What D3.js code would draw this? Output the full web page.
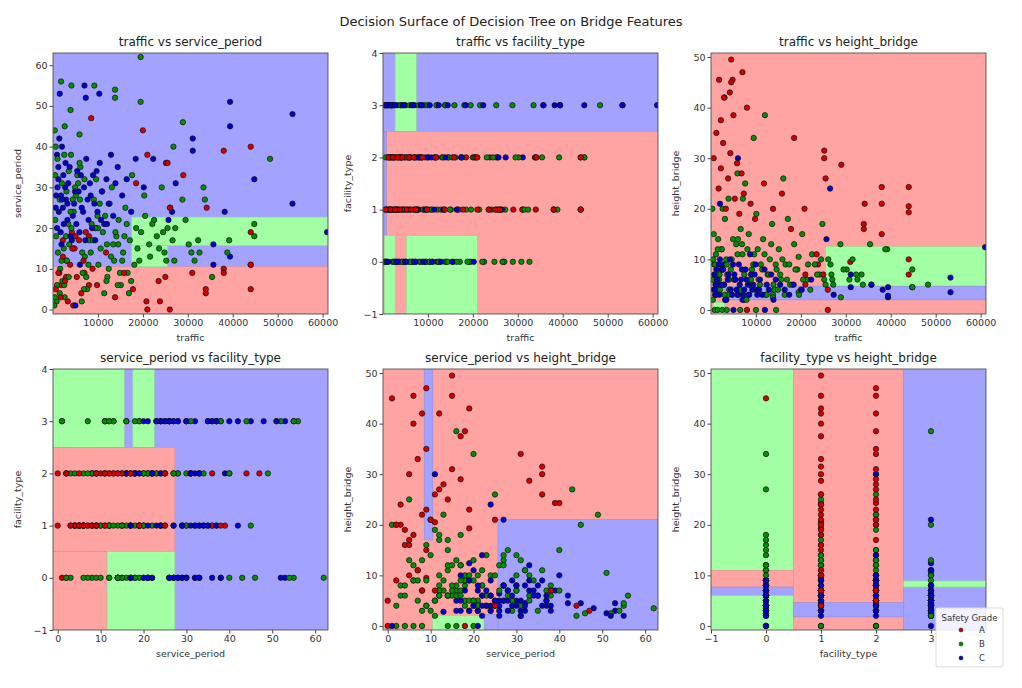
<!DOCTYPE html>
<html>
<head>
<meta charset="utf-8">
<script src="https://cdn.jsdelivr.net/npm/d3@7"></script>
<style>
  body { margin: 0; background: #fff; font-family: 'DejaVu Sans', sans-serif; }
</style>
</head>
<body>
<div id="chart"></div>
<script>
// bridge records: [traffic (thousands), service_period, facility_type, height_bridge, grade]
const bridges = [
  [19.5,62,0,3.5,'B'],[1.8,56,3,6,'B'],[4.1,55,0,4,'B'],[7.0,55,3,2,'C'],[9.2,55,3,4.5,'B'],[1.5,53,3,4.5,'C'],[10.3,53,0,3,'C'],[13.8,54,0,3,'B'],[13.8,52,3,2.5,'B'],[7.3,52,0,2,'C'],
  [19.5,51,3,10.5,'B'],[39.4,51,3,2.5,'C'],[53.3,48,3,3.5,'C'],[39.4,45,3,4.5,'C'],[48.3,37,3,5,'B'],[44.8,32,3,4.5,'C'],[53.3,26,3,6.4,'C'],[28.9,46,0,2.5,'B'],[20.0,44,2,4,'A'],[31.1,42,1,4.5,'C'],
  [31.1,39,2,7,'C'],[26.8,40,0,7,'B'],[8.5,47,2,3,'A'],[61,19,3,12.4,'C'],[44.8,21,2,4.5,'B'],[44.8,18,2,8,'B'],[39.2,17,2,12,'B'],[39.4,13,3,2.8,'C'],[44,11,1,20.5,'A'],[38,10,1,21,'A'],
  [34,4,1,16,'A'],[26,0,1,0,'A'],[23.8,2,2,9,'A'],[31,9,1,9.5,'A'],[35.7,11,3,5,'C'],[35.7,16,3,5,'C'],[44,19,1,19.3,'A'],
  [4.5,15,1,49.5,'A'],[7,9,2,47,'A'],[1.8,6,1,45.5,'A'],[4.8,15,2,45.5,'A'],[4.2,19,1,43,'A'],[3,12,1,42,'A'],[2.9,8,2,42,'A'],[8,6,1,40,'A'],[2.2,17,1,37.5,'A'],[5,18,2,38.5,'A'],
  [18.5,31,2,34,'A'],[25.2,36,1,31.5,'A'],[25.2,36,2,30,'A'],[29,33,1,28.7,'A'],[25.5,36,1,26,'A'],[44,40,2,24.3,'A'],[38,39,1,24.3,'A'],[4.5,1,0,45,'A'],[9.5,20,0,34,'B'],[12,16,3,38.5,'B'],
  [0.8,2,0,0,'B'],[1.5,4,1,0,'B'],[2.5,6,2,0,'B'],[3.5,8,0,0,'B'],[5,1,3,0,'C'],[6.5,14,0,0,'B'],[8,18,2,0,'A'],[10,20,1,0,'B'],[12,21,0,0,'C'],[14.5,16,2,0,'B'],
  [1,30,3,5,'C'],[1.2,35,3,8,'C'],[0.9,38,3,3,'C'],[1.4,42,3,6,'C'],[2,40,3,10,'C'],[0.6,25,3,4,'C'],[1.8,28,2,7,'C'],[2.3,33,1,12,'C'],[2.8,36,0,9,'C'],[3.2,26,3,2,'C'],
  [0.5,22,1,6,'B'],[0.7,18,0,9,'B'],[1.1,14,2,11,'B'],[1.6,10,1,14,'B'],[2.1,7,0,5,'B'],[2.6,3,2,8,'B'],[3.1,12,1,18,'B'],[3.6,16,0,7,'B'],[4.1,20,2,4,'B'],[4.6,24,1,10,'B'],
  [5.1,28,0,6,'B'],[5.6,31,2,13,'B'],[6.1,35,1,3,'B'],[6.6,9,0,16,'B'],[7.1,13,2,22,'B'],[7.6,5,1,25,'B'],[8.1,17,0,12,'B'],[8.6,21,2,5,'B'],[9.1,27,1,8,'B'],[9.6,32,0,11,'B'],
  [10.1,11,2,19,'B'],[10.6,15,1,6,'B'],[11.1,19,0,9,'B'],[11.6,23,2,14,'B'],[12.1,8,1,3,'B'],[12.6,26,0,7,'B'],[13.1,30,2,10,'B'],[13.6,12,1,17,'B'],[14.1,18,0,4,'B'],[14.6,22,2,8,'B'],
  [15.1,6,1,12,'B'],[15.6,14,0,6,'B'],[16.1,25,2,26,'B'],[16.6,9,1,9,'B'],[17.1,17,0,18,'B'],[17.6,33,2,5,'B'],[18.5,20,1,13,'B'],[19.2,12,0,8,'B'],[20.3,28,2,15,'B'],[21.4,16,1,6,'B'],
  [22.5,22,0,11,'B'],[23.1,18,2,9,'B'],[24.2,30,1,7,'B'],[24.8,14,0,17,'B'],[25.5,20,2,5,'B'],[26.1,25,1,10,'B'],[27,12,0,6,'B'],[28.8,27,3,13,'B'],[30.2,16,2,8,'B'],[31.5,12,1,10,'B'],
  [32.6,14,0,6,'B'],[33.5,30,3,7,'B'],[35.4,8,2,13,'B'],[38.8,14,1,12,'B'],[0.4,44,3,2,'B'],[0.6,40,2,15,'B'],[2.6,45,1,20,'B'],[3.9,49,2,22,'B'],[5.9,43,0,27,'B'],[0.3,1,3,20,'B'],
  [0.4,3,0,6,'B'],[0.9,6,1,9,'B'],[1.4,9,2,4,'B'],[1.9,12,3,7,'B'],[2.4,15,0,12,'B'],[2.9,18,1,5,'B'],[3.4,21,2,10,'B'],[3.9,24,3,3,'B'],[4.4,27,0,8,'B'],[4.9,30,1,14,'B'],
  [5.4,33,2,6,'B'],[5.9,36,3,11,'B'],[6.4,2,0,4,'B'],[6.9,5,1,13,'B'],[7.4,8,2,7,'B'],[7.9,11,3,2,'B'],[8.4,14,0,15,'B'],[8.9,17,1,6,'B'],[9.4,20,2,9,'B'],[9.9,23,3,4,'B'],
  [10.4,26,0,12,'B'],[10.9,29,1,5,'B'],[11.4,4,2,8,'B'],[11.9,7,3,11,'B'],[12.4,10,0,3,'B'],[12.9,13,1,7,'B'],[13.4,16,2,13,'B'],[13.9,19,3,5,'B'],[14.4,6,0,9,'B'],[14.9,9,1,4,'B'],
  [15.4,12,2,7,'B'],[15.9,18,3,10,'B'],[16.4,21,0,3,'B'],[16.9,4,1,6,'B'],[17.4,7,2,9,'B'],[18.1,11,3,5,'B'],[18.8,15,0,8,'B'],[19.6,19,1,3,'B'],[20.5,23,2,6,'B'],[21.6,13,3,9,'B'],
  [22.1,21,0,4,'B'],[23.6,15,1,7,'B'],[24.5,19,2,10,'B'],[25.2,12,3,6,'B'],[26.6,17,0,9,'B'],[27.2,20,1,5,'B'],[29.5,22,2,8,'B'],[30.8,14,0,6,'B'],[32.3,17,1,7,'B'],[33.8,27,2,5,'B'],
  [0.5,33,0,10,'B'],[1.0,37,1,7,'B'],[1.5,27,2,12,'B'],[2.0,31,3,4,'B'],[2.5,38,0,8,'B'],[3.0,29,1,3,'B'],[3.5,34,2,9,'B'],[4.0,38,3,6,'B'],[6.0,27,0,14,'B'],[7.0,32,1,11,'B'],
  [0.9,20,0,4,'C'],[1.3,24,1,6,'C'],[1.9,16,2,3,'C'],[2.4,21,3,8,'C'],[2.9,27,0,5,'C'],[3.4,31,1,2,'C'],[3.9,18,2,7,'C'],[4.4,23,3,4,'C'],[4.9,29,0,9,'C'],[5.4,34,1,6,'C'],
  [5.9,19,2,3,'C'],[6.4,25,3,5,'C'],[6.9,30,0,8,'C'],[7.4,37,1,4,'C'],[7.9,22,2,6,'C'],[8.4,28,3,3,'C'],[8.9,33,0,7,'C'],[9.4,17,1,5,'C'],[9.9,24,2,9,'C'],[10.4,36,3,4,'C'],
  [10.9,29,0,6,'C'],[11.4,21,1,3,'C'],[11.9,32,2,8,'C'],[12.4,26,3,5,'C'],[12.9,38,0,4,'C'],[13.4,23,1,7,'C'],[13.9,31,2,2,'C'],[14.4,35,3,6,'C'],[15.4,28,0,5,'C'],[16.4,32,1,4,'C'],
  [17.4,24,2,3,'C'],[18.4,37,3,5,'C'],[20.2,30,0,4,'C'],[22.3,37,3,6,'C'],[25.7,22,2,14,'C'],[26.5,24,1,24,'C'],[38.2,24,3,4,'C'],[27.3,31,2,3,'C'],[2,27,3,21,'C'],[6,11,2,30,'C'],
  [0.7,28,3,7,'C'],[1.2,32,0,3,'C'],[1.7,19,1,9,'C'],[2.2,25,2,5,'C'],[2.7,30,3,8,'C'],[3.2,22,0,2,'C'],[3.7,35,1,6,'C'],[4.2,17,2,10,'C'],[4.7,26,3,3,'C'],[5.2,21,0,7,'C'],
  [5.7,29,1,4,'C'],[6.2,33,2,9,'C'],[6.7,24,3,6,'C'],[7.2,17,0,3,'C'],[7.7,27,1,8,'C'],[8.2,31,2,5,'C'],[8.7,20,3,11,'C'],[9.2,26,0,4,'C'],[9.7,34,1,7,'C'],[10.7,22,2,4,'C'],
  [0.6,5,1,30,'A'],[1.2,9,2,35,'A'],[1.7,3,1,24,'A'],[2.2,13,2,28,'A'],[2.7,7,1,33,'A'],[3.3,2,2,20,'A'],[3.8,11,1,26,'A'],[4.3,15,2,31,'A'],[5.3,8,1,22,'A'],[5.8,17,2,29,'A'],
  [6.3,4,1,19,'A'],[6.8,12,2,27,'A'],[7.3,19,1,23,'A'],[8.8,10,2,21,'A'],[9.8,6,1,18,'A'],[11.8,14,2,25,'A'],[13.8,3,1,20,'A'],[15.8,9,2,23,'A'],[17.8,5,1,16,'A'],[20.8,2,2,20,'A'],
  [23.5,7,1,11,'A'],[21,0,2,5,'A'],[25,8,1,7,'A'],[34,5,2,17,'A'],[38,9,1,15,'A'],[44,11,2,7,'A'],[44,5,1,10,'A'],[21,38,1,7,'A'],[34.2,25,2,21,'A'],[26,25,1,4,'A']
];

const grades = ['A', 'B', 'C'];
const pointColors = { A: '#d40000', B: '#009000', C: '#0000d0' };
const regionColors = { A: '#ffa3a3', B: '#a3ffa3', C: '#a3a3ff' };

// decision regions: [x0, x1, y0, y1, grade], drawn in order
const regionsTrafficService = [
  [0, 61.2, -1, 63, 'C'], [0, 61.2, -1, 10.5, 'A'], [17.5, 61.2, 15.7, 22.7, 'B'], [17.5, 25.5, 10.5, 15.7, 'B']
];
const regionsTrafficFacility = [
  [0, 61.2, 2.5, 4, 'C'], [2.7, 7.4, 2.5, 4, 'B'], [0, 61.2, -1, 2.5, 'A'], [0.3, 0.8, 0.5, 2.5, 'C'],
  [0.3, 2.7, -1, 0.5, 'B'], [5.2, 21, -1, 0.5, 'B']
];
const regionsTrafficHeight = [
  [0, 61.2, -1, 51, 'A'], [25.5, 61.2, 4.7, 12.5, 'B'], [3, 61.2, 2, 4.7, 'C'], [0.5, 3, -1, 1.5, 'B']
];
const regionsServiceFacility = [
  [-1.1, 63, -1, 4, 'C'], [-1.1, 15.5, 2.5, 4, 'B'], [17.5, 22.5, 2.5, 4, 'B'],
  [-1.1, 27.3, 0.5, 2.5, 'A'], [-1.1, 11.5, -1, 0.5, 'A'], [11.5, 27.3, -1, 0.5, 'B']
];
const regionsServiceHeight = [
  [-1.1, 63, -1, 51, 'A'], [8.5, 10.5, 17, 51, 'C'], [10.5, 22.5, -1, 2, 'B'], [22.5, 63, -1, 2.3, 'C'],
  [25.7, 63, -1, 21, 'C']
];
const regionsFacilityHeight = [
  [-1, 0.5, 11, 51, 'B'], [-1, 0.5, 7.7, 11, 'A'], [-1, 0.5, 6, 7.7, 'C'], [-1, 0.5, -1, 6, 'B'],
  [0.5, 2.5, -1, 51, 'A'], [0.5, 2.5, 1.8, 4.6, 'C'], [2.5, 4, -1, 51, 'C'], [2.5, 4, 7.7, 8.9, 'B']
];

const trafficTicks = [10000, 20000, 30000, 40000, 50000, 60000];
const serviceTicks = [0, 10, 20, 30, 40, 50, 60];
const facilityTicks = [-1, 0, 1, 2, 3, 4];
const heightTicks = [0, 10, 20, 30, 40, 50];

const features = {
  traffic: { get: (d) => d[0] * 1000, domain: [0, 61200], ticks: trafficTicks, regionScale: 1000 },
  service_period: { get: (d) => d[1], domain: [-1.1, 63], ticks: serviceTicks, regionScale: 1 },
  facility_type: { get: (d) => d[2], domain: [-1, 4], ticks: facilityTicks, regionScale: 1 },
  height_bridge: { get: (d) => d[3], domain: [-0.8, 50.8], ticks: heightTicks, regionScale: 1 },
};

const panels = [
  { x: 'traffic', y: 'service_period', regions: regionsTrafficService },
  { x: 'traffic', y: 'facility_type', regions: regionsTrafficFacility },
  { x: 'traffic', y: 'height_bridge', regions: regionsTrafficHeight },
  { x: 'service_period', y: 'facility_type', regions: regionsServiceFacility },
  { x: 'service_period', y: 'height_bridge', regions: regionsServiceHeight },
  { x: 'facility_type', y: 'height_bridge', regions: regionsFacilityHeight, xDomain: [-1, 4], xTicks: [-1, 0, 1, 2, 3] },
];

const width = 1022, height = 688;
const lefts = [53, 383, 711], tops = [53, 369];
const pw = 275, ph = 261;
const fmt = (v) => v < 0 ? '\u2212' + Math.abs(v) : d3.format('d')(v);

const svg = d3.select('#chart').append('svg')
  .attr('width', width).attr('height', height)
  .style('font-family', "'DejaVu Sans', sans-serif");

svg.append('text')
  .attr('x', 511).attr('y', 26)
  .attr('text-anchor', 'middle')
  .attr('font-size', 13).attr('fill', '#222')
  .text('Decision Surface of Decision Tree on Bridge Features');

panels.forEach((p, i) => {
  const fx = features[p.x], fy = features[p.y];
  const left = lefts[i % 3], top = tops[Math.floor(i / 3)];
  const x = d3.scaleLinear().domain(p.xDomain || fx.domain).range([0, pw]);
  const y = d3.scaleLinear().domain(fy.domain).range([ph, 0]);
  const g = svg.append('g').attr('transform', `translate(${left},${top})`);

  g.append('clipPath').attr('id', `clip${i}`)
    .append('rect').attr('width', pw).attr('height', ph);

  const plot = g.append('g').attr('clip-path', `url(#clip${i})`);

  plot.selectAll('rect.region')
    .data(p.regions)
    .join('rect')
    .attr('class', 'region')
    .attr('x', (d) => x(d[0] * fx.regionScale))
    .attr('width', (d) => x(d[1] * fx.regionScale) - x(d[0] * fx.regionScale))
    .attr('y', (d) => y(d[3] * fy.regionScale))
    .attr('height', (d) => y(d[2] * fy.regionScale) - y(d[3] * fy.regionScale))
    .attr('fill', (d) => regionColors[d[4]])
    .attr('stroke', (d) => d3.color(regionColors[d[4]]).darker(0.4))
    .attr('stroke-width', 0.6);

  plot.selectAll('circle')
    .data(bridges)
    .join('circle')
    .attr('cx', (d) => x(fx.get(d)))
    .attr('cy', (d) => y(fy.get(d)))
    .attr('r', 2.7)
    .attr('fill', (d) => pointColors[d[4]])
    .attr('stroke', '#111')
    .attr('stroke-width', 0.7);

  g.append('rect').attr('width', pw).attr('height', ph)
    .attr('fill', 'none').attr('stroke', '#555').attr('stroke-width', 0.9);

  const xAxis = g.append('g').attr('transform', `translate(0,${ph})`)
    .call(d3.axisBottom(x).tickValues(p.xTicks || fx.ticks).tickSize(3.5).tickPadding(2).tickFormat(fmt));
  const yAxis = g.append('g')
    .call(d3.axisLeft(y).tickValues(fy.ticks).tickSize(3.5).tickPadding(2).tickFormat(fmt));
  [xAxis, yAxis].forEach((a) => {
    a.select('.domain').remove();
    a.selectAll('text').attr('font-size', 9.5).attr('fill', '#333').style('font-family', "'DejaVu Sans', sans-serif");
    a.selectAll('line').attr('stroke', '#444');
  });

  g.append('text').attr('x', pw / 2).attr('y', -7)
    .attr('text-anchor', 'middle').attr('font-size', 12).attr('fill', '#222')
    .text(`${p.x} vs ${p.y}`);
  g.append('text').attr('x', pw / 2).attr('y', ph + 27)
    .attr('text-anchor', 'middle').attr('font-size', 9.5).attr('fill', '#333')
    .text(p.x);
  g.append('text')
    .attr('transform', `translate(-32,${ph / 2}) rotate(-90)`)
    .attr('text-anchor', 'middle').attr('font-size', 9.5).attr('fill', '#333')
    .text(p.y);
});

// legend
const legend = svg.append('g').attr('transform', 'translate(936,608)');
legend.append('rect').attr('width', 67).attr('height', 59).attr('rx', 2)
  .attr('fill', 'rgba(255,255,255,0.85)').attr('stroke', '#ddd');
legend.append('text').attr('x', 33.5).attr('y', 13).attr('text-anchor', 'middle')
  .attr('font-size', 8.5).attr('fill', '#333').text('Safety Grade');
legend.selectAll('g.item')
  .data(grades)
  .join('g')
  .attr('class', 'item')
  .attr('transform', (d, i) => `translate(0,${25 + i * 14})`)
  .each(function(d) {
    const it = d3.select(this);
    it.append('circle').attr('cx', 25).attr('cy', -3).attr('r', 2)
      .attr('fill', pointColors[d]).attr('stroke', '#111').attr('stroke-width', 0.5);
    it.append('text').attr('x', 43).attr('y', 0).attr('font-size', 8.5).attr('fill', '#333').text(d);
  });
</script>
</body>
</html>
